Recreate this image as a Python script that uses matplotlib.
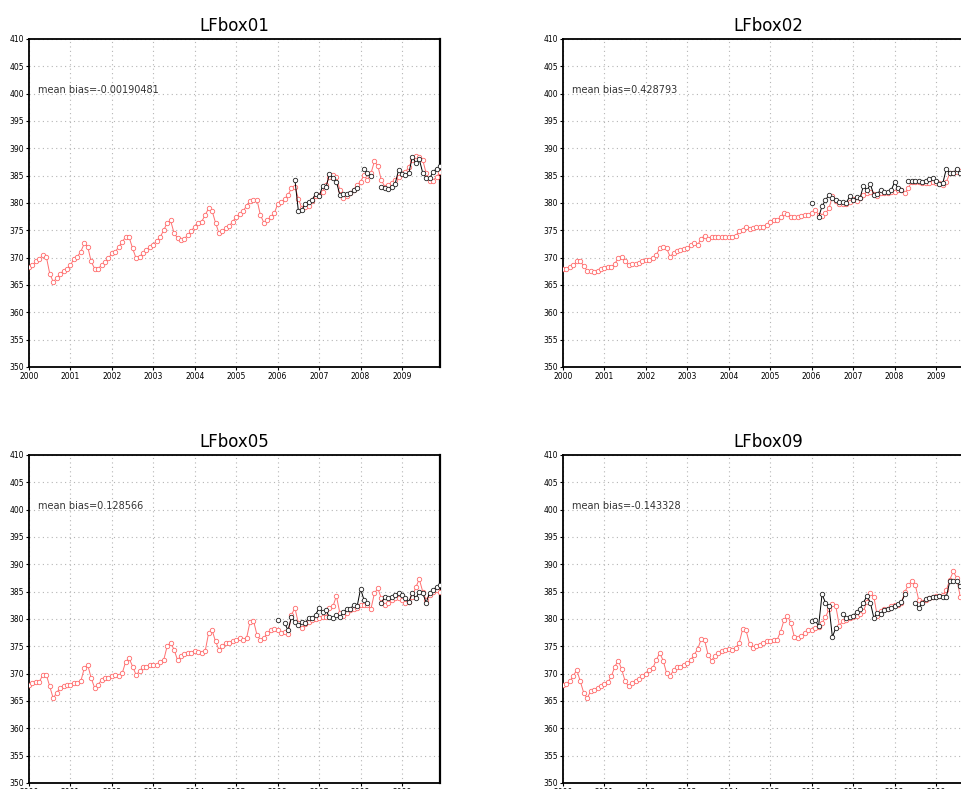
import numpy as np
import matplotlib
matplotlib.use("Agg")
from matplotlib import pyplot as plt

nan = np.nan

# monthly time axis, Jan 2000 .. Dec 2009
months = 2000 + np.arange(120) / 12.0
obs_months = months[72:]   # obs only from Jan 2006

titles = ["LFbox01", "LFbox02", "LFbox05", "LFbox09"]
biases = ["mean bias=-0.00190481", "mean bias=0.428793",
          "mean bias=0.128566", "mean bias=-0.143328"]

# model (red), 12 values per year
model_box01 = [
    368.3, 368.6, 369.3, 369.7, 370.5, 370.2, 367.1, 365.6, 366.2, 367.0, 367.6, 368.0,
    368.6, 369.8, 370.2, 371.1, 372.6, 372.0, 369.3, 368.0, 368.0, 368.6, 369.2, 369.9,
    370.8, 371.1, 372.0, 372.9, 373.8, 373.7, 371.7, 369.9, 370.2, 370.8, 371.4, 372.0,
    372.4, 373.1, 373.8, 375.0, 376.4, 376.8, 374.5, 373.6, 373.2, 373.5, 374.1, 374.9,
    375.7, 376.4, 376.6, 377.8, 379.0, 378.6, 376.4, 374.5, 374.9, 375.4, 375.8, 376.6,
    377.5, 377.9, 378.5, 379.5, 380.3, 380.6, 380.6, 377.8, 376.4, 376.9, 377.4, 378.1,
    379.8, 380.1, 380.7, 381.5, 382.7, 383.0, 380.8, 379.0, 379.3, 379.5, 380.3, 381.2,
    381.5, 382.1, 383.3, 384.8, 385.1, 384.8, 382.4, 380.9, 381.2, 381.8, 382.4, 383.3,
    383.9, 385.1, 384.2, 385.4, 387.6, 386.8, 384.2, 383.0, 383.3, 383.6, 384.2, 384.8,
    385.3, 385.7, 386.6, 387.9, 388.6, 388.5, 387.9, 385.4, 384.1, 384.1, 384.8, 385.6,
]
model_box02 = [
    367.9, 368.0, 368.3, 368.6, 369.3, 369.3, 368.5, 367.6, 367.6, 367.4, 367.6, 367.9,
    368.2, 368.3, 368.3, 368.9, 369.9, 370.2, 369.3, 368.6, 368.9, 368.9, 369.1, 369.3,
    369.6, 369.6, 369.9, 370.5, 371.7, 371.9, 371.7, 370.2, 370.8, 371.3, 371.4, 371.5,
    371.7, 372.3, 372.6, 372.3, 373.5, 374.0, 373.5, 373.7, 373.7, 373.7, 373.7, 373.7,
    373.7, 373.7, 374.0, 374.8, 375.1, 375.7, 375.3, 375.4, 375.6, 375.7, 375.7, 376.0,
    376.6, 376.9, 376.8, 377.4, 378.1, 378.0, 377.4, 377.5, 377.5, 377.6, 377.8, 377.8,
    378.1, 378.8, 377.8, 377.6, 378.1, 379.0, 381.2, 380.3, 379.8, 379.8, 379.9, 380.1,
    380.7, 380.3, 380.9, 381.5, 381.9, 382.1, 381.7, 381.2, 381.8, 381.9, 381.9, 382.1,
    382.1, 382.4, 382.3, 381.8, 382.8, 383.9, 383.9, 383.9, 383.7, 383.7, 383.7, 383.9,
    383.7, 383.7, 383.3, 383.9, 385.4, 385.4, 385.7, 385.9, 385.1, 384.5, 384.6, 384.8,
]
model_box05 = [
    368.0, 368.3, 368.5, 368.5, 369.8, 369.8, 367.7, 365.5, 366.5, 367.4, 367.7, 368.0,
    368.0, 368.3, 368.3, 368.6, 371.0, 371.6, 369.2, 367.4, 368.0, 368.8, 369.2, 369.2,
    369.5, 369.8, 369.6, 370.1, 372.2, 372.8, 371.3, 369.8, 370.4, 371.3, 371.3, 371.5,
    371.5, 371.6, 372.1, 372.5, 375.0, 375.7, 374.4, 372.5, 373.2, 373.6, 373.8, 373.8,
    374.2, 373.9, 373.8, 374.1, 377.4, 378.0, 375.9, 374.4, 375.0, 375.7, 375.7, 375.9,
    376.2, 376.5, 376.2, 376.5, 379.5, 379.7, 377.1, 376.2, 376.5, 377.4, 377.9, 378.1,
    377.9, 377.5, 377.7, 377.2, 380.8, 382.0, 379.2, 378.3, 379.1, 379.5, 379.9, 380.0,
    380.2, 380.3, 380.3, 382.0, 382.3, 384.2, 381.1, 380.5, 381.1, 381.7, 381.8, 382.0,
    382.6, 382.6, 382.6, 381.8, 384.7, 385.6, 383.8, 382.6, 383.0, 383.5, 383.8, 383.8,
    383.5, 383.0, 383.2, 384.1, 385.8, 387.3, 385.0, 383.5, 384.4, 385.0, 385.3, 385.0,
]
model_box09 = [
    368.0, 368.2, 368.6, 369.6, 370.7, 368.6, 366.5, 365.5, 366.8, 367.0, 367.4, 367.8,
    368.2, 368.4, 369.5, 371.3, 372.4, 370.8, 368.6, 367.7, 368.3, 368.6, 369.0, 369.5,
    370.0, 370.6, 371.0, 372.5, 373.8, 372.4, 370.1, 369.6, 370.6, 371.3, 371.3, 371.6,
    371.9, 372.5, 373.5, 374.5, 376.3, 376.1, 373.5, 372.4, 373.3, 373.8, 374.1, 374.4,
    374.5, 374.3, 374.7, 375.6, 378.1, 377.9, 375.5, 374.7, 375.1, 375.3, 375.6, 375.9,
    375.9, 376.1, 376.2, 377.7, 379.8, 380.6, 379.2, 376.7, 376.5, 376.9, 377.4, 377.9,
    377.9, 378.3, 378.5, 379.3, 380.3, 381.8, 382.8, 382.3, 378.8, 379.6, 379.9, 380.1,
    380.3, 380.5, 380.9, 381.4, 383.2, 384.7, 384.1, 380.5, 381.4, 381.8, 381.8, 382.3,
    382.6, 382.6, 383.0, 385.0, 386.2, 386.9, 386.2, 383.5, 383.2, 383.5, 383.8, 384.1,
    384.2, 384.2, 384.4, 385.3, 387.2, 388.7, 387.5, 384.1, 383.6, 383.8, 384.0, 384.3,
]

# observations (black), Jan 2006 .. Dec 2009
obs_box01 = [
    nan, nan, nan, nan, nan, 384.2, 378.5, 378.8, 379.8, 380.2, 380.6, 381.7,
    381.2, 383.1, 382.9, 385.3, 384.6, 383.9, 381.5, 381.7, 381.7, 381.9, 382.3, 382.7,
    nan, 386.3, 385.5, 385.0, nan, nan, 383.0, 382.8, 382.5, 383.0, 383.5, 386.0,
    385.3, 385.2, 385.5, 388.5, 387.3, 388.0, 385.5, 384.6, 384.5, 385.7, 386.3, 386.7,
]
obs_box02 = [
    380.0, nan, 377.4, 379.4, 380.5, 381.5, 380.9, 380.5, 380.2, 380.1, 380.0, 381.2,
    380.6, 381.1, 380.9, 383.2, 382.3, 383.4, 381.5, 381.7, 382.4, 382.1, 382.1, 382.3,
    383.8, 382.7, 382.3, nan, 384.0, 384.1, 384.1, 384.0, 383.8, 384.1, 384.3, 384.6,
    384.0, 383.5, 383.7, 386.3, 385.4, 385.5, 386.2, 385.4, 385.2, 385.0, 385.3, 385.5,
]
obs_box05 = [
    379.9, nan, 379.2, 378.0, 380.3, 379.5, 378.9, 379.4, 379.3, 380.2, 380.2, 380.8,
    382.0, 381.2, 381.6, 380.3, 380.2, 380.8, 380.3, 381.2, 381.8, 381.8, 382.6, 382.3,
    385.5, 383.5, 382.9, nan, nan, nan, 382.9, 384.0, 383.8, 384.1, 384.4, 384.8,
    384.4, 383.8, 383.2, 384.7, 383.8, 385.0, 384.7, 383.0, 384.8, 385.3, 385.9, 386.2,
]
obs_box09 = [
    379.6, 379.8, 378.7, 384.5, 383.0, 382.4, 376.7, 378.4, nan, 380.9, 380.2, 380.4,
    380.5, 381.3, 381.9, 383.0, 384.2, 383.0, 380.2, 381.1, 381.0, 381.7, 381.9, 382.0,
    382.4, 382.7, 383.1, 384.5, nan, nan, 383.0, 382.0, 383.0, 383.6, 383.9, 384.1,
    384.1, 384.2, 384.1, 384.1, 386.9, 386.9, 386.9, 386.0, 384.8, 384.5, 384.6, 384.8,
]

models = [model_box01, model_box02, model_box05, model_box09]
obss = [obs_box01, obs_box02, obs_box05, obs_box09]

fig = plt.figure(figsize=(9.61, 7.89), dpi=100)

W, H = 411 / 961, 328 / 789
positions = [
    (29 / 961, 1 - 367 / 789),
    (563 / 961, 1 - 367 / 789),
    (29 / 961, 1 - 783 / 789),
    (563 / 961, 1 - 783 / 789),
]

for k in range(4):
    ax = fig.add_axes([positions[k][0], positions[k][1], W, H])

    ax.plot(months, models[k], color="#ff7070", lw=0.7, marker="o", ms=3.2,
            mfc="white", mec="#ff6a6a", mew=0.6, zorder=3)
    ax.plot(obs_months, obss[k], color="black", lw=0.7, marker="o", ms=3.2,
            mfc="white", mec="#222222", mew=0.6, zorder=4)

    ax.set_xlim(2000, months[-1])
    ax.set_ylim(350, 410)
    ax.set_xticks(range(2000, 2010))
    ax.set_yticks(range(350, 411, 5))
    ax.tick_params(labelsize=5.5, length=2.5, width=0.8, pad=1)
    ax.grid(True, color="#b5b5b5", lw=0.8, linestyle=(0, (1, 3)))

    for side in ["top", "left", "bottom"]:
        ax.spines[side].set_linestyle((0, (4, 1)))
        ax.spines[side].set_linewidth(1.3)
    ax.spines["right"].set_linewidth(1.6)

    ax.set_title(titles[k], fontsize=12, pad=6)
    ax.text(2000.22, 400.7, biases[k], fontsize=7, color="#333333",
            ha="left", va="center")

plt.savefig("out.png", dpi=100)
